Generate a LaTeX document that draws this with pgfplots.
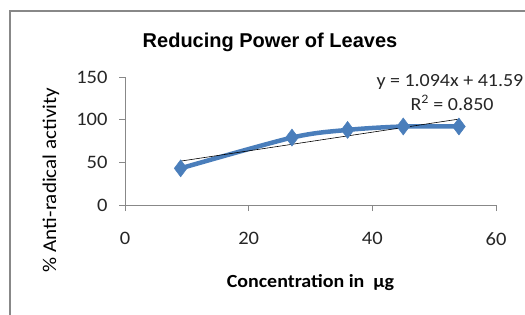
\documentclass[border=0pt]{standalone}
\usepackage{pgfplots}
\pgfplotsset{compat=1.18}
\usepackage{fontspec}
\setmainfont{Carlito}[FakeStretch=1.08]
\newfontfamily\titlefont{Liberation Sans}
\definecolor{serblue}{HTML}{4A7EBB}
\definecolor{axgray}{HTML}{888888}
\begin{document}
\begin{tikzpicture}
\useasboundingbox (0,0) rectangle (525pt,314pt);
\clip (0,0) rectangle (525pt,314pt);
\fill[white] (0,0) rectangle (525pt,314pt);
\draw[axgray, line width=1.2pt] (10pt,303pt) rectangle (600pt,-20pt);
\begin{axis}[
  scale only axis, width=371pt, height=128pt,
  at={(125pt,109pt)}, anchor=south west,
  xmin=0, xmax=60, ymin=0, ymax=150,
  axis lines=left, axis line style={-, draw=axgray, line width=0.8pt},
  xtick={0,20,40,60}, ytick={0,50,100,150},
  tick align=outside, major tick length=6pt,
  tick style={axgray, line width=0.8pt},
  /pgf/number format/assume math mode=true,
  ticklabel style={font=\fontsize{19}{20}\selectfont, text=black!85},
  xticklabel style={yshift=-18pt},
  yticklabel style={xshift=-8pt},
  xlabel={\textbf{Concentration in\ \ µg}},
  xlabel style={font=\fontsize{18.5}{20}\selectfont, at={(rel axis cs:0.5,0)}, anchor=base, yshift=-82pt},
  ylabel={\% Anti-radical activity},
  ylabel style={font=\fontsize{19.5}{20}\selectfont, at={(rel axis cs:-0.2,0.195)}, anchor=center, rotate=0},
  clip=false,
]
\addplot[serblue, line width=4.5pt, smooth, tension=0.5, mark=diamond*, mark size=8.5pt, mark options={solid, line width=0.5pt, fill=serblue}]
  coordinates {(9,43) (27,79) (36,88) (45,92) (54,92)};
\addplot[black, line width=0.6pt] coordinates {(9,51.436) (54,100.666)};
\end{axis}
\node[font=\titlefont\bfseries\fontsize{20}{22}\selectfont, anchor=base] at (270pt,266pt) {Reducing Power of Leaves};
\node[font=\fontsize{18.5}{20}\selectfont, anchor=base west, text=black!85] at (373pt,228pt) {y = 1.094x + 41.59};
\node[font=\fontsize{18.5}{20}\selectfont, anchor=base west, text=black!85] at (407pt,204pt) {R\textsuperscript{2} = 0.850};
\end{tikzpicture}
\end{document}
